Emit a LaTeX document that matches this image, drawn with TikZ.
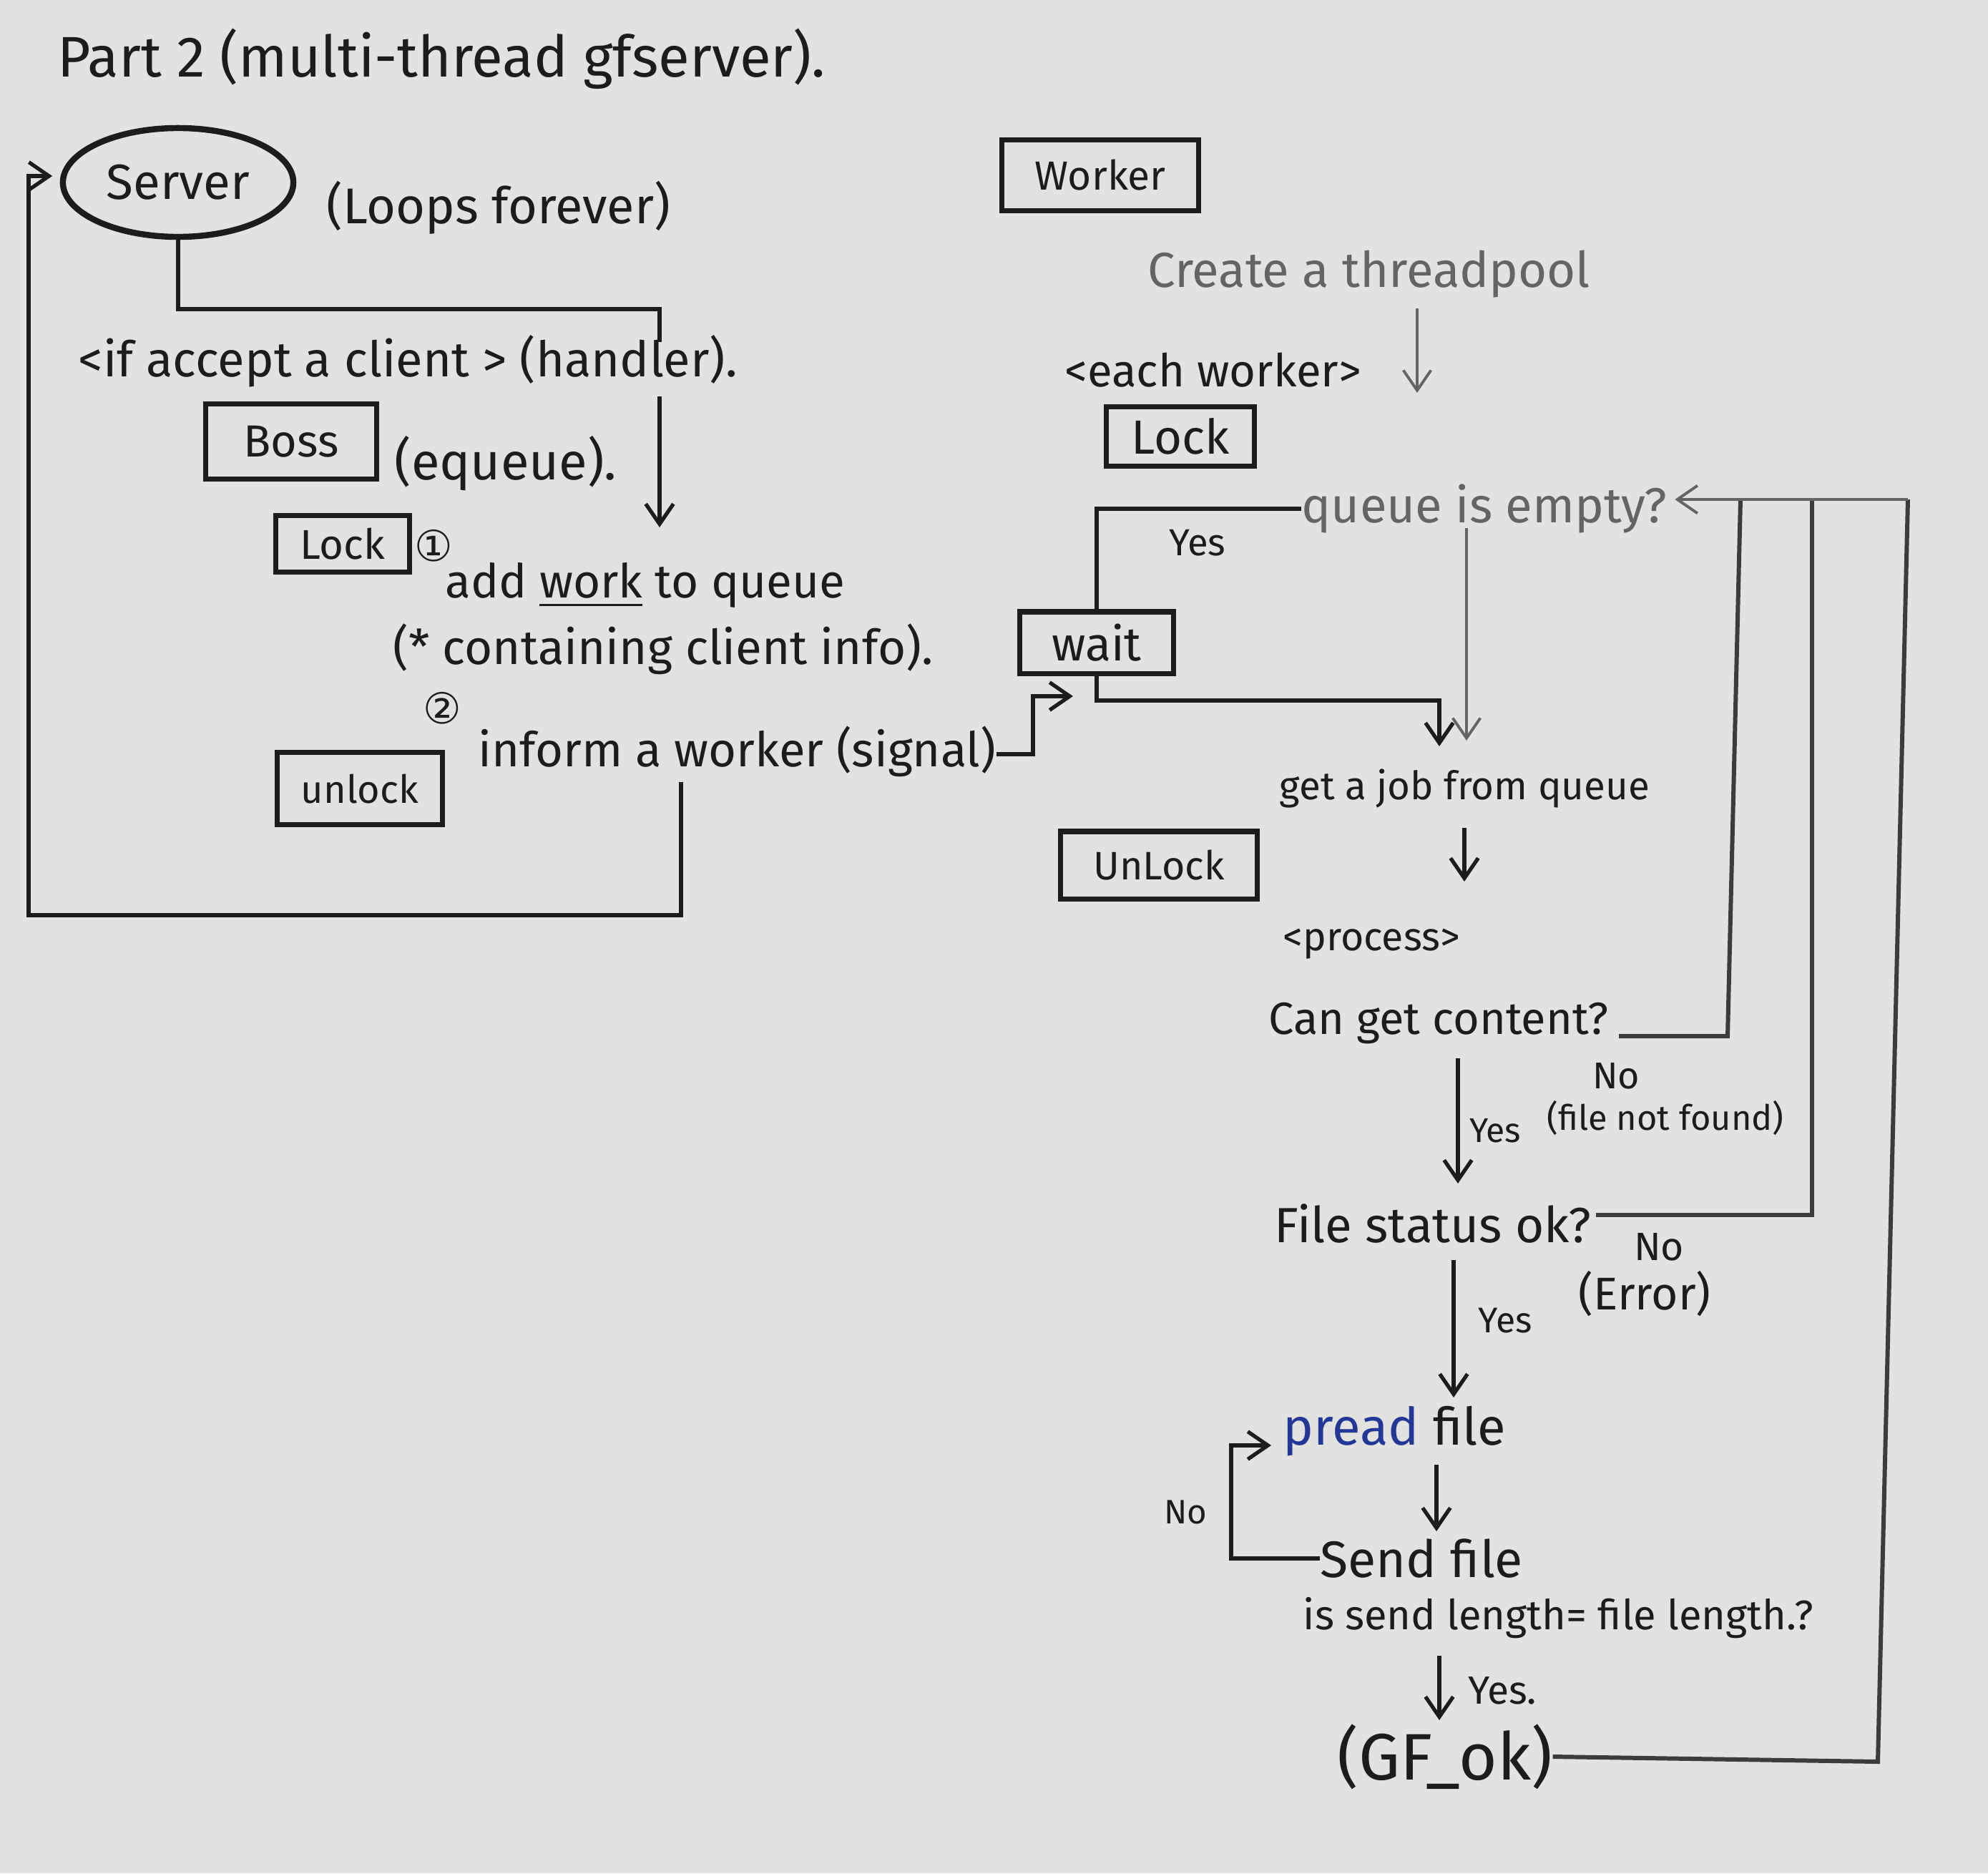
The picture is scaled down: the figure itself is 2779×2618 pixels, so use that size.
\documentclass[tikz,border=0pt]{standalone}
\usepackage{fontspec}
\setmainfont{Fira Sans}
\newfontfamily\symfont{DejaVu Sans}
\usetikzlibrary{arrows.meta,shapes.geometric}
\definecolor{paper}{RGB}{226,227,224}
\definecolor{ink}{RGB}{28,28,28}
\definecolor{pencil}{RGB}{100,100,100}
\definecolor{dgray}{RGB}{60,60,60}
\definecolor{penblue}{RGB}{35,55,150}
\newcommand{\T}[2]{\resizebox{#1}{!}{#2}}
\begin{document}
\begin{tikzpicture}[x=0.01cm,y=-0.01cm,
  txt/.style={inner sep=0pt, text=ink},
  ptxt/.style={inner sep=0pt, text=pencil},
  bx/.style={draw=ink, line width=2pt, inner sep=0pt, text=ink},
  ln/.style={draw=ink, line width=1.5pt},
  pln/.style={draw=pencil, line width=1.1pt},
  vln/.style={draw=dgray, line width=1.7pt},
  arr/.style={ln, -{Straight Barb[length=8pt,width=11pt]}},
  parr/.style={pln, -{Straight Barb[length=8pt,width=11pt]}}]
\fill[paper] (0,0) rectangle (2779,2618);
\useasboundingbox (0,0) rectangle (2779,2618);

% ---------- left: server / boss ----------
\node[txt, anchor=west] (title) at (80,82) {\T{10.72cm}{Part 2 (multi-thread gfserver).}};
\node[bx, ellipse, minimum width=3.22cm, minimum height=1.52cm, line width=2.4pt] (server) at (249,255) {\T{2.0cm}{Server}};
\node[txt, anchor=west] (loops) at (456,290) {\T{4.8cm}{(Loops forever)}};
\node[txt, anchor=west] (accept) at (109,505) {\T{9.2cm}{<if accept a client > (handler).}};
\node[bx, minimum width=2.38cm, minimum height=1.05cm] (boss) at (407,617) {\T{1.33cm}{Boss}};
\node[txt, anchor=west] (equeue) at (551,648) {\T{3.1cm}{(equeue).}};
\node[bx, minimum width=1.86cm, minimum height=0.79cm] (lockL) at (479,760) {\T{1.19cm}{Lock}};
\node[txt] (n1) at (606,763) {\symfont\fontsize{17}{17}\selectfont ①};
\node[txt, anchor=west] (addwork) at (622,818) {\T{5.58cm}{add \underline{work} to queue}};
\node[txt, anchor=west] (contain) at (549,907) {\T{7.54cm}{(* containing client info).}};
\node[txt] (n2) at (618,990) {\symfont\fontsize{17}{17}\selectfont ②};
\node[txt, anchor=west] (inform) at (668,1050) {\T{7.23cm}{inform a worker (signal)}};
\node[bx, minimum width=2.30cm, minimum height=1.01cm] (unlockL) at (503,1102) {\T{1.64cm}{unlock}};

\coordinate (s1) at (922,432);
\coordinate (s2) at (922,478);
\draw[ln] (server.south) |- (s1) -- (s2);
\coordinate (h1) at (922,554);
\coordinate (h2) at (922,737);
\draw[arr] (h1) -- (h2);
\coordinate (b1) at (952,1093);
\coordinate (b2) at (952,1279);
\coordinate (b3) at (40,1279);
\coordinate (b4) at (40,246);
\draw[arr, shorten >=3pt] (b1) -- (b2) -- (b3) -- (b4) -- (b4 -| server.west);
\coordinate (g1) at (1444,1054);
\coordinate (g2) at (1444,973);
\coordinate (g3) at (1500,973);
\draw[arr] (inform.east) ++(0,4) -- (g1) -- (g2) -- (g3);

% ---------- right: worker ----------
\node[bx, minimum width=2.75cm, minimum height=0.99cm] (worker) at (1538,245) {\T{1.83cm}{Worker}};
\node[ptxt, anchor=west] (create) at (1604,383) {\T{6.18cm}{Create a threadpool}};
\node[txt, anchor=west] (each) at (1488,517) {\T{4.14cm}{<each worker>}};
\node[bx, minimum width=2.07cm, minimum height=0.83cm] (lockR) at (1650,610) {\T{1.37cm}{Lock}};
\node[ptxt, anchor=west] (qempty) at (1819,711) {\T{5.1cm}{queue is empty?}};
\node[txt] (yes1) at (1674,759) {\T{0.79cm}{Yes}};
\node[bx, minimum width=2.14cm, minimum height=0.86cm] (wait) at (1533,898) {\T{1.25cm}{wait}};
\node[txt, anchor=west] (getjob) at (1788,1102) {\T{5.17cm}{get a job from queue}};
\node[bx, minimum width=2.75cm, minimum height=0.94cm] (unlockR) at (1620,1209) {\T{1.83cm}{UnLock}};
\node[txt, anchor=west] (process) at (1793,1319) {\T{2.47cm}{<process>}};
\node[txt, anchor=west] (content) at (1773,1430) {\T{4.74cm}{Can get content?}};
\node[txt] (no1) at (2259,1504) {\T{0.66cm}{No}};
\node[txt] (nf) at (2328,1562) {\T{3.31cm}{(file not found)}};
\node[txt] (yes2) at (2090,1580) {\T{0.72cm}{Yes}};
\node[txt, anchor=west] (status) at (1781,1710) {\T{4.42cm}{File status ok?}};
\node[txt] (no2) at (2319,1743) {\T{0.7cm}{No}};
\node[txt] (err) at (2299,1808) {\T{1.85cm}{(Error)}};
\node[txt] (yes3) at (2104,1846) {\T{0.75cm}{Yes}};
\node[txt, anchor=west] (pread) at (1793,2000) {\T{3.11cm}{\textcolor{penblue}{pread} file}};
\node[txt, anchor=west] (send) at (1845,2178) {\T{2.83cm}{Send file}};
\node[txt] (no3) at (1657,2113) {\T{0.6cm}{No}};
\node[txt, anchor=west] (length) at (1821,2261) {\T{7.13cm}{is send length= file length.?}};
\node[txt] (yes4) at (2100,2363) {\T{0.96cm}{Yes.}};
\node[txt, anchor=west] (gfok) at (1869,2455) {\T{3.0cm}{(GF\_ok)}};

\coordinate (c1) at (1981,431);
\coordinate (c2) at (1981,549);
\draw[parr] (c1) -- (c2);
\draw[ln] (qempty.west) -| (wait.north);
\coordinate (w1) at (2012,979);
\coordinate (w2) at (2012,1043);
\draw[arr] (wait.south) |- (w1) -- (w2);
\coordinate (q1) at (2050,738);
\coordinate (q2) at (2050,1035);
\draw[parr] (q1) -- (q2);
\coordinate (j1) at (2047,1157);
\coordinate (j2) at (2047,1232);
\draw[arr] (j1) -- (j2);

\coordinate (top3) at (2667,698);
\coordinate (r1a) at (2263,1448);
\coordinate (r1b) at (2415,1448);
\coordinate (r1c) at (2433,698);
\draw[vln] (r1a) -- (r1b) -- (r1c);
\coordinate (r2a) at (2231,1698);
\coordinate (r2b) at (2533,1698);
\coordinate (r2c) at (2533,698);
\draw[vln] (r2a) -- (r2b) -- (r2c);
\coordinate (r3b) at (2625,2462);
\draw[vln] (gfok.east) -- (r3b) -- (top3);
\draw[parr, shorten >=3pt] (top3) -- (qempty.east |- top3);

\coordinate (y1a) at (2038,1479);
\coordinate (y1b) at (2038,1654);
\draw[arr] (y1a) -- (y1b);
\coordinate (y2a) at (2032,1761);
\coordinate (y2b) at (2032,1953);
\draw[arr] (y2a) -- (y2b);
\coordinate (p1) at (2008,2047);
\coordinate (p2) at (2008,2140);
\draw[arr] (p1) -- (p2);
\coordinate (n3a) at (1721,2178);
\coordinate (n3b) at (1721,2020);
\coordinate (n3c) at (1777,2020);
\draw[arr] (send.west) -- (n3a) -- (n3b) -- (n3c);
\coordinate (y4a) at (2012,2314);
\coordinate (y4b) at (2012,2404);
\draw[arr] (y4a) -- (y4b);
\end{tikzpicture}
\end{document}
